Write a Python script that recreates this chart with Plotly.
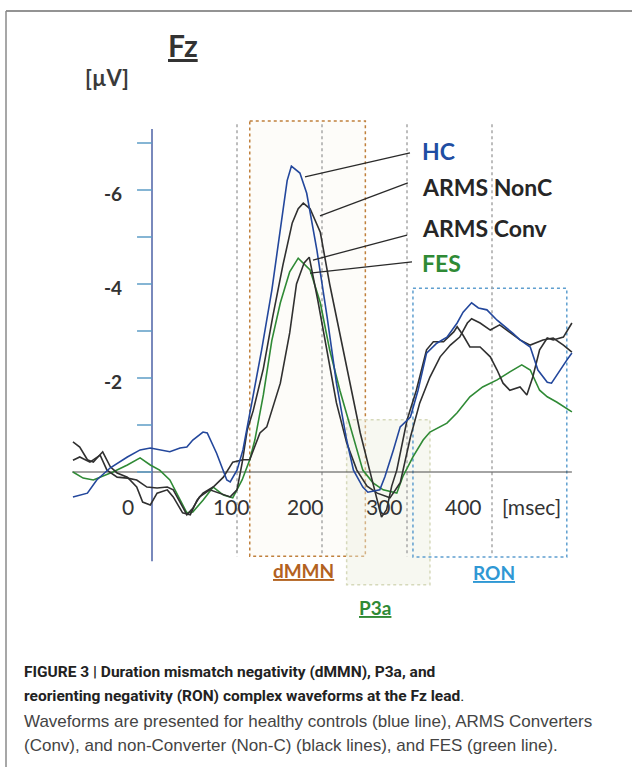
import plotly.graph_objects as go

# ---------------- data (time in ms, amplitude in microvolts) ----------------
hc_t = [-93,-76,-65,-49,-29,-14,-2,9,21,33,41,48,60,65,76,88,92,100,107,118,
        129,141,152,159,164,174,182,194,206,217,229,237,248,254,268,274,284,292,304,313,
        323,335,347,359,366,376,384,394,406,413,424,433,445,454,465,470,480,488,494]
hc_v = [0.53,0.45,0.17,-0.09,-0.32,-0.47,-0.51,-0.47,-0.43,-0.51,-0.53,-0.68,-0.85,-0.83,-0.40,0.17,0.21,-0.04,-0.47,-1.53,
        -2.6,-3.87,-5.36,-6.2,-6.51,-6.36,-5.93,-4.72,-3.3,-1.89,-0.68,-0.04,0.32,0.43,0.38,0.1,-0.47,-0.96,-1.17,-1.74,
        -2.53,-2.74,-2.87,-3.17,-3.4,-3.6,-3.49,-3.45,-3.23,-3.13,-2.96,-2.81,-2.66,-2.17,-1.91,-1.89,-2.17,-2.38,-2.53]

nonc_t = [-93,-85,-73,-61,-53,-41,-29,-18,-6,6,18,25,36,41,48,56,68,80,92,100,
          106,112,119,131,142,154,165,172,178,186,198,209,221,233,245,256,264,270,276,282,
          288,300,311,323,331,343,355,359,366,374,386,398,406,413,421,433,441,448,456,465,
          472,484,494]
nonc_v = [-0.25,-0.32,-0.21,-0.36,-0.04,0.11,0.13,0.17,0.32,0.34,0.32,0.38,0.74,0.91,0.77,0.53,0.38,0.45,0.53,0.38,
          -0.19,-0.89,-1.3,-2.2,-3.3,-4.4,-5.3,-5.6,-5.72,-5.6,-5.1,-4.0,-2.96,-1.89,-0.83,-0.04,0.5,0.96,0.8,0.3,
          -0.04,-1.1,-1.74,-2.6,-2.77,-2.77,-2.98,-3.09,-2.91,-2.66,-2.66,-2.45,-2.17,-1.89,-1.74,-1.81,-1.64,-2.02,-2.6,-2.85,
          -2.81,-2.87,-3.17]

conv_t = [-93,-85,-76,-69,-58,-49,-41,-29,-18,-11,-2,6,18,25,36,45,53,60,72,84,
          95,107,115,127,135,151,162,170,179,185,195,206,217,229,241,253,265,280,292,304,
          315,327,339,351,362,371,376,386,398,409,421,433,445,460,472,484,494]
conv_v = [-0.64,-0.53,-0.26,-0.21,-0.43,-0.11,0.02,0.11,0.32,0.64,0.7,0.45,0.38,0.53,0.87,0.91,0.6,0.45,0.32,0.11,
          -0.21,-0.26,-0.26,-0.83,-0.96,-1.89,-2.96,-4.0,-4.45,-4.57,-3.66,-2.6,-1.47,-0.62,-0.04,0.3,0.45,0.55,0.23,-0.74,
          -1.47,-2.02,-2.45,-2.7,-2.87,-3.17,-3.26,-3.17,-3.02,-3.13,-2.96,-2.81,-2.7,-2.81,-2.85,-2.7,-2.55]

fes_t = [-93,-81,-69,-58,-46,-29,-14,-2,9,21,29,41,48,60,72,84,95,106,115,121,
         131,141,151,162,172,186,198,209,221,233,248,260,272,288,295,307,319,327,347,359,
         374,389,406,421,435,445,456,465,476,494]
fes_v = [0,0.13,0.17,0.09,0,-0.15,-0.3,-0.15,-0.04,0.17,0.45,0.87,0.85,0.6,0.32,0.49,0.55,0.17,-0.26,-0.68,
         -1.64,-2.8,-3.6,-4.26,-4.55,-4.3,-3.6,-2.6,-1.74,-0.96,-0.04,0.23,0.38,0.45,0.1,-0.32,-0.68,-0.85,-1.04,-1.26,
         -1.6,-1.81,-1.96,-2.13,-2.28,-2.17,-1.74,-1.6,-1.49,-1.28]

series_names = ["HC", "ARMS NonC", "ARMS Conv", "FES"]

x_tick_text = ["0", "100", "200", "300", "400", "[msec]"]
x_tick_at = [-28, 94, 181, 274, 366, 446]          # where the labels sit (ms)
y_tick_text = ["-6", "-4", "-2"]
y_tick_vals = [-6, -4, -2]
y_minor_vals = [-7, -6, -5, -4, -3, -2, -1, 0]
grid_times = [100, 200, 300, 400]

windows = {  # component windows (ms, µV)
    "dMMN": (115, 251, -7.47, 1.79),
    "P3a": (229, 327, -1.11, 2.4),
    "RON": (307, 488, -3.91, 1.81),
}

# ---------------- layout scale ----------------
W, H = 632, 767
X0PX, Y0PX = 152, 472
PX_MS, PX_UV = 0.85, 47.0
xr = [-X0PX / PX_MS, (W - X0PX) / PX_MS]
yr = [(H - Y0PX) / PX_UV, -Y0PX / PX_UV]

BLUE = "#23479c"
BLACK = "#303030"
GREEN = "#2f8a35"
FONT = "Lato, 'Open Sans', sans-serif"

fig = go.Figure()
for t, v, c in [(fes_t, fes_v, GREEN), (conv_t, conv_v, BLACK),
                (nonc_t, nonc_v, BLACK), (hc_t, hc_v, BLUE)]:
    fig.add_trace(go.Scatter(x=t, y=v, mode="lines", line=dict(color=c, width=1.6),
                             hoverinfo="skip", showlegend=False))

shapes = []
d = windows["dMMN"]
shapes.append(dict(type="rect", x0=d[0], x1=d[1], y0=d[2], y1=d[3], layer="below",
                   line=dict(color="#c0803c", width=1.5, dash="dot"),
                   fillcolor="rgba(249,246,235,0.3)"))
p = windows["P3a"]
shapes.append(dict(type="rect", x0=p[0], x1=p[1], y0=p[2], y1=p[3], layer="below",
                   line=dict(color="#d6d9bb", width=1.5, dash="dot"),
                   fillcolor="rgba(238,240,224,0.45)"))
r = windows["RON"]
shapes.append(dict(type="rect", x0=r[0], x1=r[1], y0=r[2], y1=r[3], layer="below",
                   line=dict(color="#5f9fcf", width=1.5, dash="dot"),
                   fillcolor="rgba(0,0,0,0)"))
for g in grid_times:
    shapes.append(dict(type="line", x0=g, x1=g, y0=-7.4, y1=1.8, layer="below",
                       line=dict(color="#a8a8a8", width=1.5, dash="dot")))
shapes.append(dict(type="line", x0=-94, x1=494, y0=0, y1=0, layer="below",
                   line=dict(color="#4a4a4a", width=1.2)))
shapes.append(dict(type="line", x0=0, x1=0, y0=-7.3, y1=1.9, layer="below",
                   line=dict(color="#4d62a6", width=1.5)))
for yv in y_minor_vals:
    shapes.append(dict(type="line", x0=-17.6, x1=0, y0=yv, y1=yv, layer="below",
                       line=dict(color="#5d9cc6", width=1.5)))
leaders = [((303.5, -6.79), (180, -6.28)),
           ((301, -6.15), (197.6, -5.45)),
           ((300, -5.04), (189.4, -4.51)),
           ((305.9, -4.47), (185.9, -4.23))]
for (a, b) in leaders:
    shapes.append(dict(type="line", x0=a[0], y0=a[1], x1=b[0], y1=b[1],
                       line=dict(color="#2a2a2a", width=1.3)))
shapes.append(dict(type="line", xref="paper", yref="paper", x0=6/W, x1=1, y0=1-11/H, y1=1-11/H,
                   line=dict(color="#6f6f6f", width=1.5)))
shapes.append(dict(type="line", xref="paper", yref="paper", x0=6/W, x1=6/W, y0=0, y1=1-11/H,
                   line=dict(color="#8a8a8a", width=1.5)))

ann = []
lab_pos = [-6.83, -6.06, -5.19, -4.45]
lab_col = ["#1f4ea3", "#262626", "#262626", GREEN]
for name, yv, c in zip(series_names, lab_pos, lab_col):
    ann.append(dict(x=315, y=yv, text="<b>%s</b>" % name, showarrow=False, xanchor="left",
                    yanchor="middle", font=dict(family=FONT, size=23, color=c)))
ann.append(dict(x=178, y=2.1, text="<u><b>dMMN</b></u>", showarrow=False,
                xanchor="center", yanchor="middle",
                font=dict(family=FONT, size=19, color="#b3621f")))
ann.append(dict(x=262, y=2.89, text="<u><b>P3a</b></u>", showarrow=False,
                xanchor="center", yanchor="middle",
                font=dict(family=FONT, size=19, color="#2f8a35")))
ann.append(dict(x=402, y=2.13, text="<u><b>RON</b></u>", showarrow=False,
                xanchor="center", yanchor="middle",
                font=dict(family=FONT, size=19, color="#2f98d4")))
for txt, xp in zip(x_tick_text, x_tick_at):
    ann.append(dict(x=xp, y=0.74, text=txt, showarrow=False, xanchor="center", yanchor="middle",
                    font=dict(family=FONT, size=21, color="#333333")))
for txt, yv in zip(y_tick_text, y_tick_vals):
    ann.append(dict(x=-33, y=yv + 0.08, text="<b>%s</b>" % txt, showarrow=False, xanchor="right",
                    yanchor="middle", font=dict(family=FONT, size=19, color="#333333")))
ann.append(dict(xref="paper", yref="paper", x=183/W, y=1-45/H, text="<u><b>Fz</b></u>",
                xanchor="center", yanchor="middle",
                showarrow=False, font=dict(family=FONT, size=30, color="#333333")))
ann.append(dict(xref="paper", yref="paper", x=107/W, y=1-78/H, text="<b>[µV]</b>",
                xanchor="center", yanchor="middle",
                showarrow=False, font=dict(family=FONT, size=22, color="#3a3a3a")))
CAP_B = "Roboto, sans-serif"
CAP_R = "'Liberation Sans', Arial, sans-serif"
cap = [("<b>FIGURE 3 | Duration mismatch negativity (dMMN), P3a, and</b>", 672, CAP_B, "#222222", 15.5),
       ("<b>reorienting negativity (RON) complex waveforms at the Fz lead</b>.", 696, CAP_B, "#222222", 15.5),
       ("Waveforms are presented for healthy controls (blue line), ARMS Converters", 721, CAP_R, "#444444", 17),
       ("(Conv), and non-Converter (Non-C) (black lines), and FES (green line).", 745, CAP_R, "#444444", 17)]
for txt, yp, fam, col, sz in cap:
    ann.append(dict(xref="paper", yref="paper", x=22/W, y=1-yp/H, text=txt, showarrow=False,
                    xanchor="left", yanchor="middle", font=dict(family=fam, size=sz, color=col)))

fig.update_layout(
    width=W, height=H, autosize=False,
    margin=dict(l=0, r=0, t=0, b=0, pad=0),
    paper_bgcolor="white", plot_bgcolor="white",
    xaxis=dict(range=xr, visible=False, fixedrange=True),
    yaxis=dict(range=yr, visible=False, fixedrange=True),
    shapes=shapes, annotations=ann, showlegend=False,
)
fig.write_html("out.html")
